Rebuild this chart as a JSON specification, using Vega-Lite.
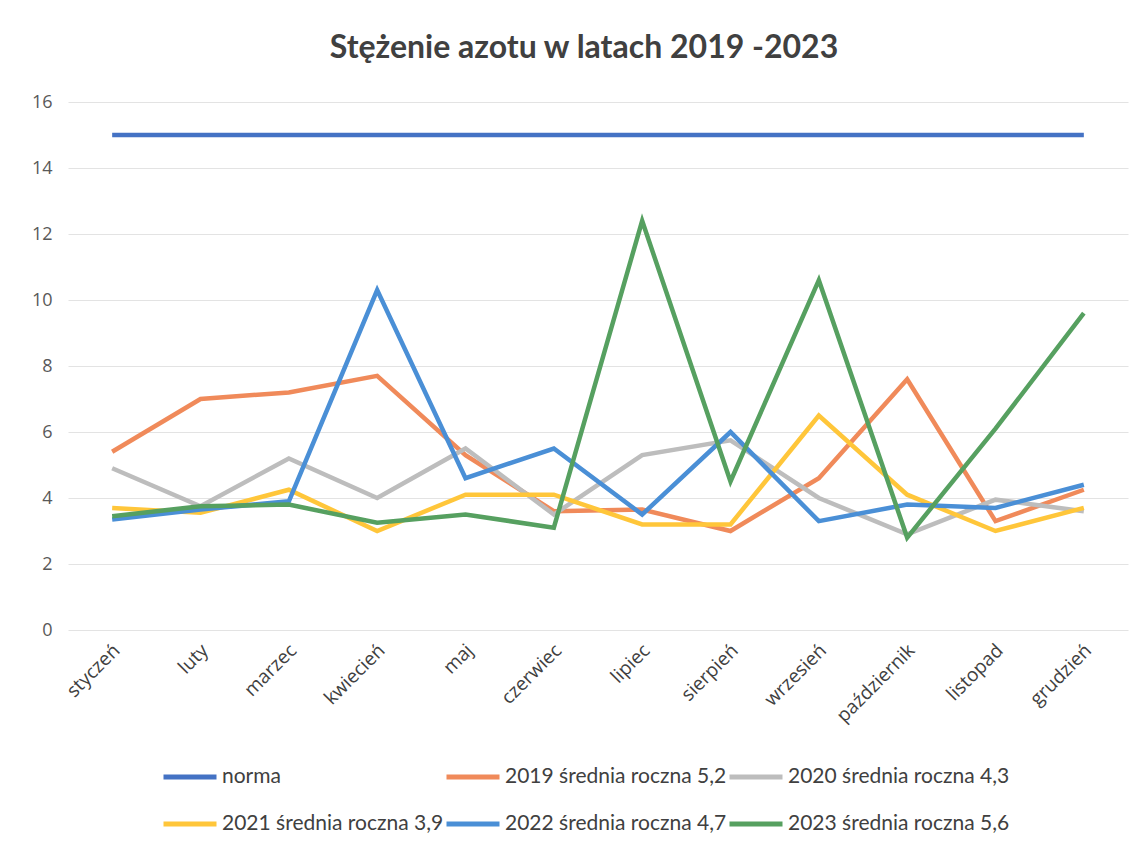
{
  "$schema": "https://vega.github.io/schema/vega-lite/v6.json",
  "autosize": "none",
  "width": 1060,
  "height": 528,
  "padding": {"left": 68, "top": 102, "right": 14, "bottom": 217},
  "background": "white",
  "title": {
    "text": "Stężenie azotu w latach 2019 -2023",
    "font": "Lato",
    "fontSize": 32,
    "fontWeight": "bold",
    "color": "#404040",
    "anchor": "middle",
    "baseline": "alphabetic",
    "offset": 3,
    "dx": -14
  },
  "datasets": {
    "d": [
      {"m": "styczeń", "s": "norma", "v": 15}, {"m": "luty", "s": "norma", "v": 15}, {"m": "marzec", "s": "norma", "v": 15}, {"m": "kwiecień", "s": "norma", "v": 15}, {"m": "maj", "s": "norma", "v": 15}, {"m": "czerwiec", "s": "norma", "v": 15}, {"m": "lipiec", "s": "norma", "v": 15}, {"m": "sierpień", "s": "norma", "v": 15}, {"m": "wrzesień", "s": "norma", "v": 15}, {"m": "październik", "s": "norma", "v": 15}, {"m": "listopad", "s": "norma", "v": 15}, {"m": "grudzień", "s": "norma", "v": 15},
      {"m": "styczeń", "s": "2019 średnia roczna 5,2", "v": 5.4}, {"m": "luty", "s": "2019 średnia roczna 5,2", "v": 7.0}, {"m": "marzec", "s": "2019 średnia roczna 5,2", "v": 7.2}, {"m": "kwiecień", "s": "2019 średnia roczna 5,2", "v": 7.7}, {"m": "maj", "s": "2019 średnia roczna 5,2", "v": 5.3}, {"m": "czerwiec", "s": "2019 średnia roczna 5,2", "v": 3.6}, {"m": "lipiec", "s": "2019 średnia roczna 5,2", "v": 3.65}, {"m": "sierpień", "s": "2019 średnia roczna 5,2", "v": 3.0}, {"m": "wrzesień", "s": "2019 średnia roczna 5,2", "v": 4.6}, {"m": "październik", "s": "2019 średnia roczna 5,2", "v": 7.6}, {"m": "listopad", "s": "2019 średnia roczna 5,2", "v": 3.3}, {"m": "grudzień", "s": "2019 średnia roczna 5,2", "v": 4.25},
      {"m": "styczeń", "s": "2020 średnia roczna 4,3", "v": 4.9}, {"m": "luty", "s": "2020 średnia roczna 4,3", "v": 3.75}, {"m": "marzec", "s": "2020 średnia roczna 4,3", "v": 5.2}, {"m": "kwiecień", "s": "2020 średnia roczna 4,3", "v": 4.0}, {"m": "maj", "s": "2020 średnia roczna 4,3", "v": 5.5}, {"m": "czerwiec", "s": "2020 średnia roczna 4,3", "v": 3.5}, {"m": "lipiec", "s": "2020 średnia roczna 4,3", "v": 5.3}, {"m": "sierpień", "s": "2020 średnia roczna 4,3", "v": 5.75}, {"m": "wrzesień", "s": "2020 średnia roczna 4,3", "v": 4.0}, {"m": "październik", "s": "2020 średnia roczna 4,3", "v": 2.9}, {"m": "listopad", "s": "2020 średnia roczna 4,3", "v": 3.95}, {"m": "grudzień", "s": "2020 średnia roczna 4,3", "v": 3.6},
      {"m": "styczeń", "s": "2021 średnia roczna 3,9", "v": 3.7}, {"m": "luty", "s": "2021 średnia roczna 3,9", "v": 3.55}, {"m": "marzec", "s": "2021 średnia roczna 3,9", "v": 4.25}, {"m": "kwiecień", "s": "2021 średnia roczna 3,9", "v": 3.0}, {"m": "maj", "s": "2021 średnia roczna 3,9", "v": 4.1}, {"m": "czerwiec", "s": "2021 średnia roczna 3,9", "v": 4.1}, {"m": "lipiec", "s": "2021 średnia roczna 3,9", "v": 3.2}, {"m": "sierpień", "s": "2021 średnia roczna 3,9", "v": 3.2}, {"m": "wrzesień", "s": "2021 średnia roczna 3,9", "v": 6.5}, {"m": "październik", "s": "2021 średnia roczna 3,9", "v": 4.1}, {"m": "listopad", "s": "2021 średnia roczna 3,9", "v": 3.0}, {"m": "grudzień", "s": "2021 średnia roczna 3,9", "v": 3.7},
      {"m": "styczeń", "s": "2022 średnia roczna 4,7", "v": 3.35}, {"m": "luty", "s": "2022 średnia roczna 4,7", "v": 3.65}, {"m": "marzec", "s": "2022 średnia roczna 4,7", "v": 3.9}, {"m": "kwiecień", "s": "2022 średnia roczna 4,7", "v": 10.3}, {"m": "maj", "s": "2022 średnia roczna 4,7", "v": 4.6}, {"m": "czerwiec", "s": "2022 średnia roczna 4,7", "v": 5.5}, {"m": "lipiec", "s": "2022 średnia roczna 4,7", "v": 3.5}, {"m": "sierpień", "s": "2022 średnia roczna 4,7", "v": 6.0}, {"m": "wrzesień", "s": "2022 średnia roczna 4,7", "v": 3.3}, {"m": "październik", "s": "2022 średnia roczna 4,7", "v": 3.8}, {"m": "listopad", "s": "2022 średnia roczna 4,7", "v": 3.7}, {"m": "grudzień", "s": "2022 średnia roczna 4,7", "v": 4.4},
      {"m": "styczeń", "s": "2023 średnia roczna 5,6", "v": 3.45}, {"m": "luty", "s": "2023 średnia roczna 5,6", "v": 3.75}, {"m": "marzec", "s": "2023 średnia roczna 5,6", "v": 3.8}, {"m": "kwiecień", "s": "2023 średnia roczna 5,6", "v": 3.25}, {"m": "maj", "s": "2023 średnia roczna 5,6", "v": 3.5}, {"m": "czerwiec", "s": "2023 średnia roczna 5,6", "v": 3.1}, {"m": "lipiec", "s": "2023 średnia roczna 5,6", "v": 12.4}, {"m": "sierpień", "s": "2023 średnia roczna 5,6", "v": 4.5}, {"m": "wrzesień", "s": "2023 średnia roczna 5,6", "v": 10.6}, {"m": "październik", "s": "2023 średnia roczna 5,6", "v": 2.8}, {"m": "listopad", "s": "2023 średnia roczna 5,6", "v": 6.1}, {"m": "grudzień", "s": "2023 średnia roczna 5,6", "v": 9.6}
    ]
  },
  "data": {"name": "d"},
  "mark": {"type": "line", "strokeWidth": 4.5, "strokeJoin": "miter", "strokeCap": "butt"},
  "encoding": {
    "x": {
      "field": "m",
      "type": "nominal",
      "sort": ["styczeń", "luty", "marzec", "kwiecień", "maj", "czerwiec", "lipiec", "sierpień", "wrzesień", "październik", "listopad", "grudzień"],
      "scale": {"type": "point", "padding": 0.5},
      "axis": {
        "title": null,
        "labelAngle": -45,
        "labelAlign": "right",
        "labelBaseline": "middle",
        "labelFont": "Open Sans",
        "labelFontSize": 19,
        "labelColor": "#404040",
        "labelPadding": 17,
        "labelOffset": 4,
        "ticks": false,
        "domain": false,
        "grid": false
      }
    },
    "y": {
      "field": "v",
      "type": "quantitative",
      "scale": {"domain": [0, 16], "nice": false, "zero": true},
      "axis": {
        "title": null,
        "values": [0, 2, 4, 6, 8, 10, 12, 14, 16],
        "labelFont": "Open Sans",
        "labelFontSize": 18,
        "labelColor": "#595959",
        "labelPadding": 16,
        "ticks": false,
        "domain": false,
        "grid": true,
        "gridColor": "#e3e3e3",
        "gridWidth": 1.2
      }
    },
    "color": {
      "field": "s",
      "type": "nominal",
      "sort": ["norma", "2019 średnia roczna 5,2", "2020 średnia roczna 4,3", "2021 średnia roczna 3,9", "2022 średnia roczna 4,7", "2023 średnia roczna 5,6"],
      "scale": {
        "domain": ["norma", "2019 średnia roczna 5,2", "2020 średnia roczna 4,3", "2021 średnia roczna 3,9", "2022 średnia roczna 4,7", "2023 średnia roczna 5,6"],
        "range": ["#4472C4", "#F08A5A", "#BDBDBD", "#FFC63A", "#4A8FD6", "#56A060"]
      },
      "legend": {
        "title": null,
        "orient": "none",
        "legendX": 93,
        "legendY": 646,
        "direction": "horizontal",
        "columns": 3,
        "symbolType": "stroke",
        "symbolSize": 2809,
        "symbolStrokeWidth": 5,
        "labelFont": "Lato",
        "labelFontSize": 21,
        "labelColor": "#404040",
        "labelOffset": 3,
        "labelLimit": 400,
        "rowPadding": 8,
        "columnPadding": -9
      }
    }
  },
  "config": {"view": {"stroke": null}}
}
